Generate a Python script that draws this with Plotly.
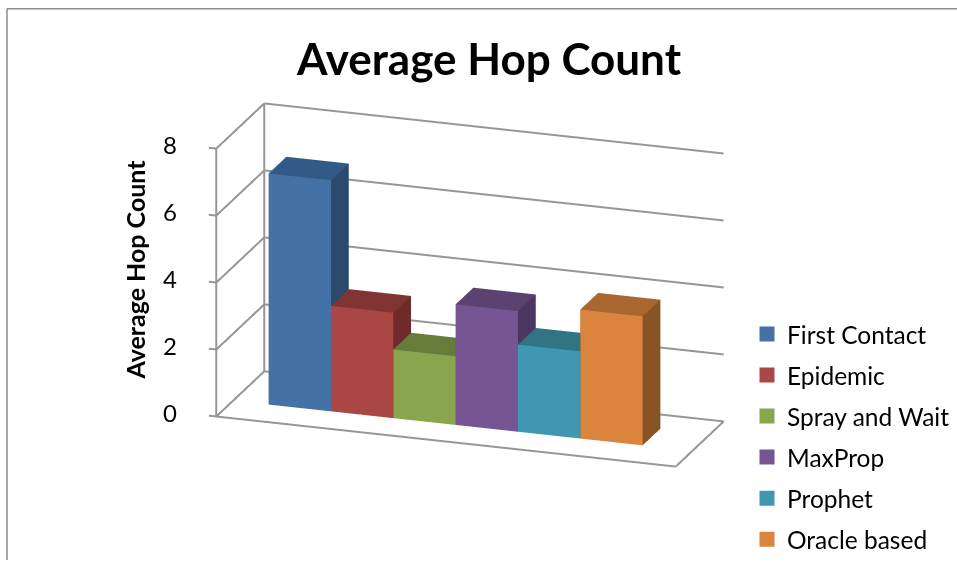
import plotly.graph_objects as go

categories = ["First Contact", "Epidemic", "Spray and Wait", "MaxProp", "Prophet", "Oracle based"]
values = [6.9, 3.15, 2.05, 3.6, 2.6, 3.85]
front_colors = ["#4472a7", "#aa4643", "#89a54e", "#775592", "#3f97b1", "#db843d"]
top_colors = ["#335a86", "#803533", "#677c3a", "#5b4270", "#317585", "#a8672e"]
side_colors = ["#2b4a6e", "#6e2b29", "#566e2e", "#4a3660", "#266476", "#895424"]
z_ticks = [0, 2, 4, 6, 8]

x_min, x_max = -0.57, 6.8
y_min, y_max = 0.0, 1.0
bar_y0, bar_y1 = 0.35, 0.72
tick_len = 0.12
x_pad, y_pad, z_pad = 0.2, 0.03, 0.1
GRID = "#969696"
LINE_W = 4
EYE = 1.52

fig = go.Figure()


def line3d(xs, ys, zs):
    fig.add_trace(go.Scatter3d(x=xs, y=ys, z=zs, mode="lines", line=dict(color=GRID, width=LINE_W),
                               showlegend=False, hoverinfo="skip"))


for z in z_ticks:
    line3d([x_min - tick_len, x_min], [y_min, y_min], [z, z])
    line3d([x_min, x_min], [y_min, y_max], [z, z])
    line3d([x_min, x_max], [y_max, y_max], [z, z])
line3d([x_min, x_max], [y_min, y_min], [0, 0])
line3d([x_max, x_max], [y_min, y_max], [0, 0])
line3d([x_min, x_min], [y_min, y_min], [0, 8])
line3d([x_min, x_min], [y_max, y_max], [0, 8])

for i, v in enumerate(values):
    x0, x1 = i, i + 1
    y0, y1 = bar_y0, bar_y1
    xs = [x0, x1, x1, x0, x0, x1, x1, x0]
    ys = [y0, y0, y1, y1, y0, y0, y1, y1]
    zs = [0, 0, 0, 0, v, v, v, v]
    I = [0, 0, 1, 1, 4, 4, 3, 3, 0, 0, 2, 2]
    J = [1, 5, 2, 6, 5, 6, 2, 7, 3, 7, 3, 7]
    K = [5, 4, 6, 5, 6, 7, 7, 6, 7, 4, 7, 6]
    fc = [front_colors[i]] * 2 + [side_colors[i]] * 2 + [top_colors[i]] * 2 + [side_colors[i]] * 6
    fig.add_trace(go.Mesh3d(x=xs, y=ys, z=zs, i=I, j=J, k=K, facecolor=fc, flatshading=True,
                            lighting=dict(ambient=1, diffuse=0, specular=0, fresnel=0, roughness=1),
                            showscale=False, showlegend=False, hoverinfo="skip"))

legend_ids = ["legend", "legend2", "legend3", "legend4", "legend5", "legend6"]
legend_layout = {}
for k, (name, c, lid) in enumerate(zip(categories, front_colors, legend_ids)):
    fig.add_trace(go.Scatter(x=[None], y=[None], mode="markers", name=name, legend=lid,
                             marker=dict(symbol="square", size=15, color=c)))
    legend_layout[lid] = dict(x=747 / 957, y=1 - (342 + 42 * k) / 562, xanchor="left", yanchor="middle",
                              font=dict(family="Lato", size=24.5, color="#000000"),
                              bgcolor="rgba(0,0,0,0)", itemclick=False, itemdoubleclick=False)

hidden = dict(visible=False, showgrid=False, zeroline=False, showticklabels=False, showspikes=False)
scene_annotations = [dict(x=x_min, y=y_min, z=t, text=str(t), showarrow=False, xshift=-46, yshift=4,
                          font=dict(family="Lato", size=24, color="#000000")) for t in z_ticks]

fig.update_layout(
    width=957, height=562, margin=dict(l=0, r=0, t=0, b=0),
    paper_bgcolor="white", plot_bgcolor="white",
    title=dict(text="<b>Average Hop Count</b>", x=489 / 957, xanchor="center", y=1 - 60 / 562, yanchor="middle",
               font=dict(family="Lato", size=44, color="#000000")),
    xaxis=dict(visible=False), yaxis=dict(visible=False),
    scene=dict(
        domain=dict(x=[0.0, 0.982], y=[0.0, 0.9614]),
        xaxis=dict(**hidden, range=[x_min - x_pad, x_max + x_pad]),
        yaxis=dict(**hidden, range=[y_min - y_pad, y_max + y_pad]),
        zaxis=dict(**hidden, range=[-z_pad, 8 + z_pad]),
        aspectmode="manual", aspectratio=dict(x=1.938, y=0.598, z=1.098),
        camera=dict(eye=dict(x=0.305 * EYE, y=-0.896 * EYE, z=0.32 * EYE), center=dict(x=0, y=0, z=0),
                    projection=dict(type="orthographic")),
        annotations=scene_annotations,
    ),
    annotations=[dict(text="<b>Average Hop Count</b>", x=135 / 957, y=1 - 276 / 562, xref="paper", yref="paper",
                      xanchor="center", yanchor="middle", showarrow=False, textangle=-90,
                      font=dict(family="Lato", size=25, color="#000000"))],
    shapes=[
        dict(type="line", xref="paper", yref="paper", x0=7 / 957, x1=1, y0=1 - 9 / 562, y1=1 - 9 / 562,
             line=dict(color="#8c8c8c", width=1.5)),
        dict(type="line", xref="paper", yref="paper", x0=7 / 957, x1=7 / 957, y0=1 - 9 / 562, y1=-0.02,
             line=dict(color="#8c8c8c", width=1.5)),
    ],
    **legend_layout,
)
fig.write_html("out.html", config=dict(displayModeBar=False),
               post_script="document.body.style.margin='0';document.body.style.overflow='hidden';")
